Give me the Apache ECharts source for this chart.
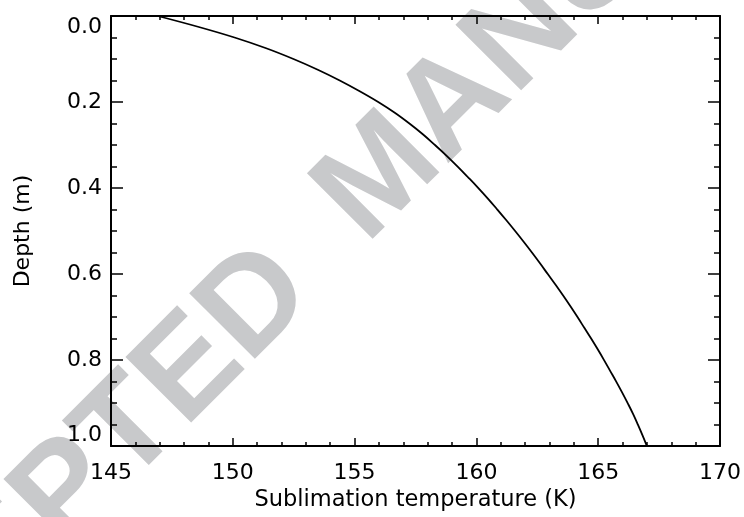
<!DOCTYPE html>
<html>
<head>
<meta charset="utf-8">
<script src="https://cdn.jsdelivr.net/npm/echarts@6/dist/echarts.min.js"></script>
<style>
html,body{margin:0;padding:0;background:#fff;}
#chart{width:744px;height:517px;}
</style>
</head>
<body>
<div id="chart"></div>
<script>
// Depth (m) and sublimation temperature (K)
var depths = [0.000, 0.025, 0.050, 0.075, 0.100, 0.125, 0.150, 0.175, 0.200, 0.225,
              0.250, 0.275, 0.300, 0.325, 0.350, 0.375, 0.400, 0.425, 0.450, 0.475,
              0.500, 0.525, 0.550, 0.575, 0.600, 0.625, 0.650, 0.675, 0.700, 0.725,
              0.750, 0.775, 0.800, 0.825, 0.850, 0.875, 0.900, 0.925, 0.950, 0.975, 1.000];
var temps  = [146.92, 148.57, 150.07, 151.37, 152.49, 153.49, 154.39, 155.21, 155.97, 156.65,
              157.25, 157.80, 158.30, 158.78, 159.23, 159.66, 160.08, 160.48, 160.86, 161.23,
              161.59, 161.94, 162.28, 162.61, 162.93, 163.25, 163.56, 163.86, 164.15, 164.43,
              164.71, 164.98, 165.24, 165.49, 165.74, 165.98, 166.21, 166.43, 166.63, 166.82, 167.00];
var xTicks = [145, 150, 155, 160, 165, 170];
var yTicks = [0.0, 0.2, 0.4, 0.6, 0.8, 1.0];
var xTitle = 'Sublimation temperature (K)';
var yTitle = 'Depth (m)';
var watermarkWords = ['ACCEPTED', 'MANUSCRIPT'];

var seriesData = depths.map(function (d, i) { return [temps[i], d]; });

var FONT = '"DejaVu Sans"';
var axisCol = '#000';

function xAxisCfg(pos, showLabel) {
  return {
    type: 'value', position: pos, min: xTicks[0], max: xTicks[xTicks.length - 1], interval: 5,
    axisLine: { show: true, onZero: false, lineStyle: { color: axisCol, width: 2 } },
    axisTick: { show: true, inside: true, length: 8, lineStyle: { color: axisCol, width: 1.5 } },
    minorTick: { show: true, splitNumber: 5, length: 4, lineStyle: { color: axisCol, width: 1.5 } },
    splitLine: { show: false },
    axisLabel: { show: showLabel, color: '#000', fontFamily: FONT, fontSize: 22, margin: 16 },
    name: showLabel ? xTitle : '', nameLocation: 'middle', nameGap: 41,
    nameTextStyle: { color: '#000', fontFamily: FONT, fontSize: 22.5 }
  };
}
function yAxisCfg(pos, showLabel) {
  return {
    type: 'value', position: pos, inverse: true, min: yTicks[0], max: yTicks[yTicks.length - 1], interval: 0.2,
    axisLine: { show: true, onZero: false, lineStyle: { color: axisCol, width: 2 } },
    axisTick: { show: true, inside: true, length: 12, lineStyle: { color: axisCol, width: 1.5 } },
    minorTick: { show: true, splitNumber: 4, length: 6, lineStyle: { color: axisCol, width: 1.5 } },
    splitLine: { show: false },
    axisLabel: {
      show: showLabel, color: '#000', fontFamily: FONT, fontSize: 22, margin: 9,
      formatter: function (v) { return v.toFixed(1); },
      verticalAlignMinLabel: 'top', verticalAlignMaxLabel: 'bottom'
    },
    name: showLabel ? yTitle : '', nameLocation: 'middle', nameGap: 77, nameRotate: 90,
    nameTextStyle: { color: '#000', fontFamily: FONT, fontSize: 22 }
  };
}

var wmStyle = { fill: '#c8c9cb', font: 'bold 135px "Liberation Sans"', textVerticalAlign: 'middle' };
var rot = 45 * Math.PI / 180;

var chart = echarts.init(document.getElementById('chart'), null, { renderer: 'canvas' });
chart.setOption({
  animation: false,
  backgroundColor: '#fff',
  grid: { left: 111, right: 24, top: 16, bottom: 69, containLabel: false },
  graphic: [{
    type: 'text', x: 291, y: 270, rotation: rot, z: -10, silent: true,
    style: Object.assign({ text: watermarkWords[0], textAlign: 'right' }, wmStyle)
  }, {
    type: 'text', x: 340, y: 219, rotation: rot, z: -10, silent: true,
    style: Object.assign({ text: watermarkWords[1], textAlign: 'left' }, wmStyle)
  }],
  xAxis: [xAxisCfg('bottom', true), xAxisCfg('top', false)],
  yAxis: [yAxisCfg('left', true), yAxisCfg('right', false)],
  series: [{
    type: 'line', xAxisIndex: 0, yAxisIndex: 0, data: seriesData,
    smooth: 0.4, showSymbol: false, symbol: 'none', z: 5,
    lineStyle: { color: '#000', width: 1.8 }
  }]
});
</script>
</body>
</html>
